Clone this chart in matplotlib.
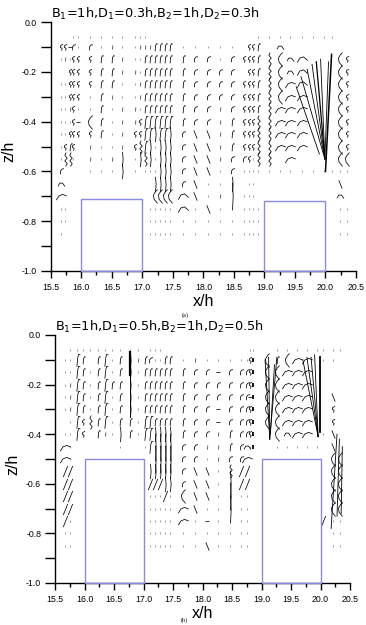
import matplotlib
matplotlib.use('Agg')
import matplotlib.path as mpath
import matplotlib.pyplot as plt
from matplotlib.patches import Rectangle
from matplotlib.ticker import MultipleLocator, FormatStrFormatter

plt.rcParams['font.family'] = ['Liberation Sans', 'DejaVu Sans']
plt.rcParams['mathtext.default'] = 'regular'
plt.rcParams['axes.unicode_minus'] = False

# ---- data ----
rows_z = [-0.06, -0.10, -0.15, -0.20, -0.25, -0.30, -0.35, -0.40, -0.45,
          -0.50, -0.55, -0.60, -0.65, -0.70, -0.75, -0.80, -0.85]

cols_a = [15.67, 15.74, 15.81, 15.87, 15.94, 16.14, 16.33, 16.50, 16.66,
          16.88, 16.96, 17.05, 17.13, 17.21, 17.29, 17.37, 17.46,
          17.67, 17.87, 18.08, 18.28, 18.47, 18.66, 18.74, 18.82, 18.89,
          19.07, 19.26, 19.42, 19.61, 19.80, 19.97, 20.10, 20.24, 20.35]

cols_b = [15.67, 15.75, 15.87, 15.98, 16.09, 16.23, 16.35, 16.46, 16.60,
          16.77, 16.91, 17.03, 17.11, 17.19, 17.28, 17.36, 17.45,
          17.67, 17.87, 18.07, 18.27, 18.47, 18.66, 18.75, 18.80, 18.86,
          19.09, 19.26, 19.43, 19.60, 19.77, 19.94, 20.05, 20.22, 20.33]

# one character per vector: its shape class (see glyphs below), '_' = none
grid_a = [
    "___.. .... ..._____ _____ ___. .......__",
    "cc-r. r.,. .,,,ffff ..... _ccf _m_______",
    ".,.cc cff, ..ffffff frr.r cccf s(mn___(c",
    "__ccc cff, ,.ffffff frrrr _ccf s(mn___(c",
    "..ccc cff. .,ffffff frrrr cccf s(hn___(c",
    "..ccc .f,. .,ffffff frrrr cccf s(hh___(c",
    "..,c. .f., ,.ffffff frr,r cccf shhh___(c",
    "...c- (f., ,cFFFFFF frr,f cccs shhh___(c",
    "..ccc cf., ccFFlFFl rbb,f cccs shhh___(c",
    ".cfc_ ,.., csFl.lll rbb,f cccs shhh___(c",
    ".ss._ ,.,l .lsl.lll rbb,r rc.s s_h____((",
    "r____ ...l ._...lll rbb.r .... .........",
    "m____ ____ ____llll rb..l _.._ _______b_",
    "h____ ____ ____(((( nb.,L ..._ _______m_",
    "..___ ____ ___..... n.b._ .... _______..",
    "..___ ____ ___..... ..... .... _______..",
    ".____ ____ ___..... ..... .... _______..",
]

grid_b = [
    "_.... .... .._...__ _____ __.. _........",
    "..Ff_ fF.f l,fr..ff .,... ..cd (f(hh_.._",
    "..Ff. fF.f l.ffffff frr-r rrcd ((hhh____",
    ".,Ff. fFff l.ffffff frrrr rrcd ((hhh____",
    ".,Ff. fF.f l.ffffff frrrr rr-d ((hhh__b_",
    ".,Ff. fF.f l.ffffff frr-r rrcd ((hhh__c_",
    "_.Fcs fF.f f.FFffff frr-r rrcd ((hhh__c_",
    "..Fc_ f,.l f.FFllll frr,f rrcd _(mhh..b_",
    "h.___ ___. __.FLLLL rr,,f rm.d _....._b_",
    "h.___ ____ ____LLLL rr.,r rh__ _______((",
    "//___ ____ ___lllll rbb.s //__ _______((",
    "//___ ____ ___///ll rbb.L //__ _______((",
    "//___ ____ ___.../. (bb.L ..__ _______((",
    "//___ ____ ___..... hb..L ..__ _______((",
    "/.___ ____ ___..... h.-.. ..__ ______/..",
    "..___ ____ ___..... ..... ..__ _______..",
    "..___ ____ ___..... ..b.. ..__ _______..",
]

# long pathlines: start x, start z, end x, end z, width
streak_a_x0 = [19.60, 19.70, 19.78, 19.85, 19.92, 20.10, 20.05, 19.52]
streak_a_z0 = [-0.22, -0.19, -0.17, -0.16, -0.15, -0.13, -0.16, -0.26]
streak_a_x1 = [19.99, 19.99, 19.99, 19.99, 19.99, 20.00, 19.99, 19.90]
streak_a_z1 = [-0.55, -0.55, -0.55, -0.55, -0.55, -0.60, -0.55, -0.53]
streak_a_w = [0.6, 0.6, 0.6, 0.9, 0.6, 1.1, 0.6, 0.6]

streak_b_x0 = [19.06, 19.12, 19.26, 19.22, 19.70, 19.77, 19.84, 19.90,
               19.99, 20.28, 20.32, 20.37, 16.77, 16.77]
streak_b_z0 = [-0.10, -0.09, -0.09, -0.12, -0.10, -0.09, -0.09, -0.08,
               -0.09, -0.40, -0.42, -0.45, -0.07, -0.16]
streak_b_x1 = [19.14, 19.14, 19.14, 19.15, 19.96, 19.96, 19.96, 19.96,
               19.99, 20.18, 20.28, 20.35, 16.77, 16.77]
streak_b_z1 = [-0.42, -0.42, -0.42, -0.40, -0.41, -0.41, -0.41, -0.41,
               -0.39, -0.78, -0.73, -0.72, -0.16, -0.33]
streak_b_w = [0.6, 0.6, 0.6, 0.6, 0.6, 0.6, 0.6, 0.6,
              1.3, 0.6, 0.6, 0.6, 1.6, 0.6]

blocks_a = [(16.0, 17.0, -0.71), (19.0, 20.0, -0.72)]
blocks_b = [(16.0, 17.0, -0.50), (19.0, 20.0, -0.50)]

title_a = 'B$_1$=1h,D$_1$=0.3h,B$_2$=1h,D$_2$=0.3h'
title_b = 'B$_1$=1h,D$_1$=0.5h,B$_2$=1h,D$_2$=0.5h'

# ---- glyph shapes (unit box) : verts, size pt, colour, width ----
glyphs = {
    '.': ([(0, -1), (0, 1)], 1.3, '0.55', 0.6),
    ',': ([(0, -1), (0.15, 1)], 3.0, '0.3', 0.6),
    'c': ([(0.5, 1), (-0.2, 0.7), (-0.4, 0.1), (0.2, -0.3), (0.0, -1)], 4.5, 'k', 0.55),
    'r': ([(-0.4, -1), (-0.3, 0.3), (0.2, 0.9), (0.9, 1)], 4.0, 'k', 0.55),
    'f': ([(-0.1, -1), (0, 0.5), (0.3, 1), (0.6, 0.9)], 5.5, 'k', 0.55),
    'F': ([(-0.1, -1), (0.05, 0.5), (0.2, 1), (0.45, 0.9)], 9.0, 'k', 0.55),
    'l': ([(0, -1), (0.08, 0), (0, 1)], 11.0, 'k', 0.55),
    'L': ([(0, -1), (0.05, 0), (0, 1)], 20.0, 'k', 0.55),
    's': ([(0, -1), (0.25, -0.6), (-0.1, -0.2), (0.25, 0.2), (-0.1, 0.6), (0.1, 1)], 10.0, 'k', 0.55),
    '/': ([(-0.4, -1), (0.4, 1)], 8.0, 'k', 0.55),
    'b': ([(0.4, -1), (-0.4, 1)], 6.0, 'k', 0.55),
    '-': ([(-1, 0), (1, 0.1)], 3.0, 'k', 0.55),
    'm': ([(-1, -0.5), (-0.5, 0.4), (0.3, 0.4), (1, -0.6)], 5.0, 'k', 0.55),
    'n': ([(-1, -0.6), (-0.5, 0.3), (0.2, 0.5), (1, -0.2)], 7.5, 'k', 0.55),
    'h': ([(-1, -0.7), (-0.5, 0.1), (0.2, 0.4), (1, 0.1)], 7.5, 'k', 0.55),
    '(': ([(0.3, -1), (-0.2, -0.4), (-0.3, 0.2), (0.0, 0.7), (0.3, 1)], 10.0, 'k', 0.55),
    'd': ([(0, -1), (0, 1)], 2.5, 'k', 1.3),
}


def draw_panel(ax, cols, grid, sx0, sz0, sx1, sz1, sw, blocks, title, ylab_x):
    for ch, (verts, size, color, lw) in glyphs.items():
        xs, zs = [], []
        for z, row in zip(rows_z, grid):
            for x, c in zip(cols, row.replace(' ', '')):
                if c == ch:
                    xs.append(x)
                    zs.append(z)
        if xs:
            ax.plot(xs, zs, ls='none', marker=mpath.Path(verts), ms=size,
                    mfc='none', mec=color, mew=lw)
    for x0, z0, x1, z1, w in zip(sx0, sz0, sx1, sz1, sw):
        ax.plot([x0, x1], [z0, z1], color='k', lw=w)
    for xa, xb, top in blocks:
        ax.add_patch(Rectangle((xa, -1.0), xb - xa, top + 1.0, fill=False,
                               ec='#8a8ae0', lw=1.0, zorder=3, clip_on=False))

    ax.set_xlim(15.5, 20.5)
    ax.set_ylim(-1.0, 0.0)
    for s in ('top', 'right'):
        ax.spines[s].set_visible(False)
    for s in ('left', 'bottom'):
        ax.spines[s].set_linewidth(1.0)
    ax.xaxis.set_major_locator(MultipleLocator(0.5))
    ax.xaxis.set_minor_locator(MultipleLocator(0.25))
    ax.yaxis.set_major_locator(MultipleLocator(0.2))
    ax.yaxis.set_minor_locator(MultipleLocator(0.1))
    ax.xaxis.set_major_formatter(FormatStrFormatter('%.1f'))
    ax.yaxis.set_major_formatter(FormatStrFormatter('%.1f'))
    ax.tick_params(axis='x', which='major', length=5, width=1.0, labelsize=6.3, pad=4)
    ax.tick_params(axis='x', which='minor', length=3, width=1.0)
    ax.tick_params(axis='y', which='both', length=7, width=1.0, labelsize=6.3, pad=3)
    ax.set_xlabel('x/h', fontsize=11.5)
    ax.set_ylabel('z/h', fontsize=11.5)
    ax.xaxis.set_label_coords(0.5, -0.092)
    ax.yaxis.set_label_coords(ylab_x, 0.48)
    ax.text(0.0, 1.018, title, transform=ax.transAxes, ha='left',
            va='baseline', fontsize=9.3, family='DejaVu Sans')


fig = plt.figure(figsize=(3.66, 6.25), dpi=100)
ax1 = fig.add_axes([0.1385, 0.5664, 0.8342, 0.3984])
ax2 = fig.add_axes([0.1503, 0.0672, 0.806, 0.3968])

draw_panel(ax1, cols_a, grid_a, streak_a_x0, streak_a_z0, streak_a_x1,
           streak_a_z1, streak_a_w, blocks_a, title_a, -0.112)
draw_panel(ax2, cols_b, grid_b, streak_b_x0, streak_b_z0, streak_b_x1,
           streak_b_z1, streak_b_w, blocks_b, title_b, -0.118)

fig.text(0.505, 0.496, '(a)', ha='center', va='center', fontsize=4.5,
         family='Liberation Serif')
fig.text(0.505, 0.003, '(b)', ha='center', va='bottom', fontsize=4.5,
         family='Liberation Serif')

fig.savefig('out.png', dpi=100)
